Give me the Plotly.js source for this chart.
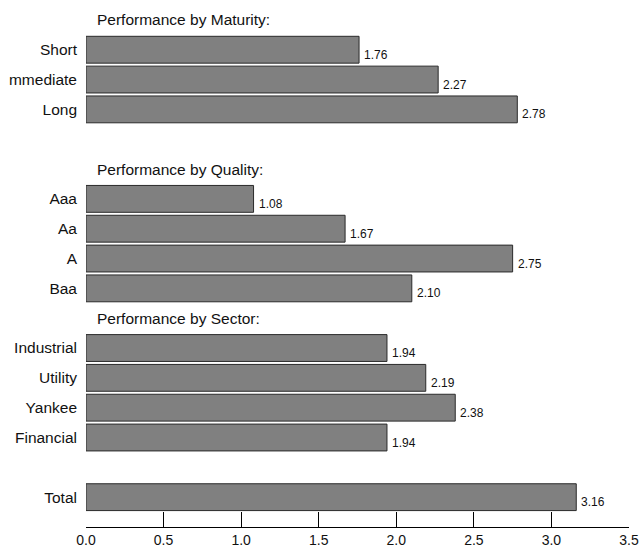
<!DOCTYPE html>
<html>
<head>
<meta charset="utf-8">
<script src="https://cdn.plot.ly/plotly-3.0.1.min.js"></script>
<style>html,body{margin:0;padding:0;background:#fff;}#chart{width:642px;height:549px;}</style>
</head>
<body>
<div id="chart"></div>
<script>
// ---- data ----
const maturityHeader = 'Performance by Maturity:';
const maturityLabels = ['Short', 'mmediate', 'Long'];
const maturityValues = [1.76, 2.27, 2.78];

const qualityHeader = 'Performance by Quality:';
const qualityLabels = ['Aaa', 'Aa', 'A', 'Baa'];
const qualityValues = [1.08, 1.67, 2.75, 2.10];

const sectorHeader = 'Performance by Sector:';
const sectorLabels = ['Industrial', 'Utility', 'Yankee', 'Financial'];
const sectorValues = [1.94, 2.19, 2.38, 1.94];

const totalLabels = ['Total'];
const totalValues = [3.16];

const xTickVals = [0, 0.5, 1, 1.5, 2, 2.5, 3, 3.5];
const xTickText = ['0.0', '0.5', '1.0', '1.5', '2.0', '2.5', '3.0', '3.5'];

// ---- build rows ----
const groups = [
  {header: maturityHeader, labels: maturityLabels, values: maturityValues, gapBefore: 0},
  {header: qualityHeader, labels: qualityLabels, values: qualityValues, gapBefore: 1},
  {header: sectorHeader, labels: sectorLabels, values: sectorValues, gapBefore: 0},
  {header: null, labels: totalLabels, values: totalValues, gapBefore: 1}
];

const barY = [], barX = [], tickVals = [], tickText = [];
const annotations = [];
const FONT = '"Liberation Sans", Arial, Helvetica, sans-serif';
let row = 0;
groups.forEach(g => {
  row += g.gapBefore;
  if (g.header) {
    annotations.push({x: 0, y: row, xref: 'x', yref: 'y', text: g.header, showarrow: false,
      xanchor: 'left', yanchor: 'middle', xshift: 9, font: {family: FONT, size: 15.5, color: '#111'}});
    row += 1;
  }
  g.labels.forEach((lab, i) => {
    barY.push(row); barX.push(g.values[i]);
    tickVals.push(row); tickText.push(lab);
    annotations.push({x: g.values[i], y: row, xref: 'x', yref: 'y', text: g.values[i].toFixed(2),
      showarrow: false, xanchor: 'left', yanchor: 'middle', xshift: 3, yshift: -5,
      font: {family: FONT, size: 12, color: '#111'}});
    row += 1;
  });
});

const trace = {
  type: 'bar', orientation: 'h', x: barX, y: barY, width: 0.9,
  marker: {color: '#808080', line: {color: '#2a2a2a', width: 1}},
  hoverinfo: 'none'
};

const layout = {
  width: 642, height: 549,
  margin: {l: 86, r: 13, t: 2, b: 22},
  paper_bgcolor: '#fff', plot_bgcolor: '#fff',
  showlegend: false,
  font: {family: FONT, size: 15, color: '#111'},
  xaxis: {
    range: [0, 3.5], tickmode: 'array', tickvals: xTickVals, ticktext: xTickText,
    ticks: 'inside', ticklen: 15, tickwidth: 1, tickcolor: '#000',
    showline: true, linecolor: '#000', linewidth: 1, showgrid: false, zeroline: false,
    tickfont: {family: FONT, size: 14, color: '#111'}, fixedrange: true
  },
  yaxis: {
    range: [row, -0.6], tickmode: 'array', tickvals: tickVals, ticktext: tickText,
    ticks: '', showline: false, showgrid: false, zeroline: false, ticklabelstandoff: 8,
    tickfont: {family: FONT, size: 15.5, color: '#111'}, fixedrange: true
  },
  annotations: annotations
};

Plotly.newPlot('chart', [trace], layout, {displayModeBar: false, staticPlot: true});
</script>
</body>
</html>
